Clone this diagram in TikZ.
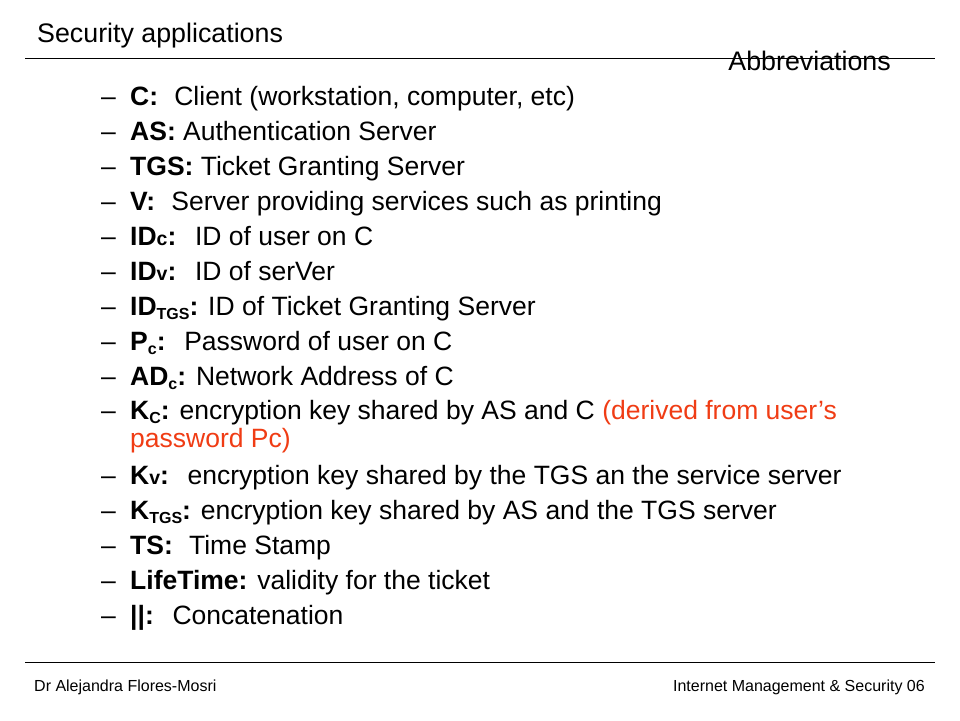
\documentclass[tikz,border=0pt]{standalone}
\usepackage{fontspec}
\setmainfont{Liberation Sans}
\definecolor{redtxt}{RGB}{240,60,20}
\newcommand{\smallsub}[1]{{\fontsize{19.5}{22}\selectfont #1}}
\newcommand{\lowsub}[1]{\raisebox{-4.5pt}{\fontsize{16}{18}\selectfont #1}}
\begin{document}
\begin{tikzpicture}[x=1pt,y=-1pt,
  txt/.style={inner sep=0pt, anchor=base west, font=\fontsize{26.5}{30}\selectfont},
  head/.style={inner sep=0pt, font=\fontsize{26.8}{30}\selectfont},
  foot/.style={inner sep=0pt, font=\fontsize{16}{19}\selectfont},
  rule/.style={line width=1pt}]
\useasboundingbox (0,0) rectangle (960,720);
\fill[white] (0,0) rectangle (960,720);
\node[head, anchor=base west] (title) at (37,42.5) {Security applications};
\coordinate (tl) at (25,58);
\coordinate (tr) at (935,58);
\draw[rule] (tl) -- (tr);
\node[head, anchor=base east] (abbr) at (891,70) {Abbreviations};
\foreach \y/\n in {105/1,140/2,175/3,210/4,245/5,280/6,315/7,350/8,385/9,419/10,484/11,519/12,554/13,589/14,624/15}
  \node[txt] (d\n) at (101,\y) {--};
\node[txt] (i1) at (130,105) {\textbf{C:}\,\, Client (workstation, computer, etc)};
\node[txt] (i2) at (130,140) {\textbf{AS:} Authentication Server};
\node[txt] (i3) at (130,175) {\textbf{TGS:} Ticket Granting Server};
\node[txt] (i4) at (130,210) {\textbf{V:}\,\, Server providing services such as printing};
\node[txt] (i5) at (130,245) {\textbf{ID\smallsub{c}:}\,\, ID of user on C};
\node[txt] (i6) at (130,280) {\textbf{ID\smallsub{v}:}\,\, ID of serVer};
\node[txt] (i7) at (130,315) {\textbf{ID\lowsub{TGS}:} ID of Ticket Granting Server};
\node[txt] (i8) at (130,350) {\textbf{P\lowsub{c}:}\,\, Password of user on C};
\node[txt] (i9) at (130,385) {\textbf{AD\lowsub{c}:} Network Address of C};
\node[txt] (i10) at (130,419) {\textbf{K\lowsub{C}:} encryption key shared by AS and C \textcolor{redtxt}{(derived from user’s}};
\node[txt, text=redtxt] (i10b) at (130,447) {password Pc)};
\node[txt] (i11) at (130,484) {\textbf{K\smallsub{v}:}\,\, encryption key shared by the TGS an the service server};
\node[txt] (i12) at (130,519) {\textbf{K\lowsub{TGS}:} encryption key shared by AS and the TGS server};
\node[txt] (i13) at (130,554) {\textbf{TS:}\,\, Time Stamp};
\node[txt] (i14) at (130,589) {\textbf{LifeTime:} validity for the ticket};
\node[txt] (i15) at (130,624) {\textbf{||:}\,\, Concatenation};
\coordinate (bl) at (25,662);
\coordinate (br) at (935,662);
\draw[rule] (bl) -- (br);
\node[foot, anchor=base west] (fl) at (34,691) {Dr Alejandra Flores-Mosri};
\node[foot, anchor=base east] (fr) at (925,691) {Internet Management \& Security 06};
\end{tikzpicture}
\end{document}
